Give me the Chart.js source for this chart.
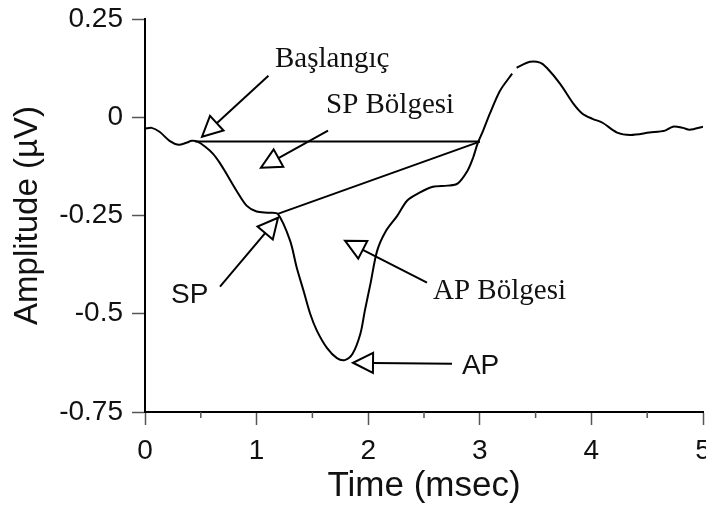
<!DOCTYPE html>
<html>
<head>
<meta charset="utf-8">
<script src="https://cdn.jsdelivr.net/npm/chart.js@4.4.1/dist/chart.umd.min.js"></script>
<style>
  html, body { margin: 0; padding: 0; background: #fff; }
  #wrap { width: 706px; height: 509px; }
</style>
</head>
<body>
<div id="wrap"><canvas id="chart" width="706" height="509"></canvas></div>
<script>
// Waveform (time in msec, amplitude in µV)
const timeMs = [0, 0.06, 0.13, 0.22, 0.30, 0.37, 0.42, 0.47, 0.54, 0.61, 0.67, 0.73, 0.82, 0.91, 1.00, 1.10, 1.19,
  1.30, 1.36, 1.42, 1.48, 1.54, 1.63, 1.72, 1.79, 1.86, 1.93, 1.97, 2.02, 2.08, 2.16, 2.26,
  2.35, 2.46, 2.58, 2.71, 2.80, 2.89, 2.94, 2.98, 3.03, 3.09, 3.18, 3.29, 3.31, 3.33, 3.45, 3.54, 3.60, 3.72, 3.84,
  3.92, 4.01, 4.10, 4.23, 4.35, 4.52, 4.66, 4.73, 4.82, 4.88, 5.00];
const amplitude = [-0.029, -0.027, -0.037, -0.060, -0.070, -0.065, -0.060, -0.062, -0.075, -0.093, -0.116, -0.144,
  -0.187, -0.225, -0.240, -0.243, -0.246,
  -0.314, -0.383, -0.441, -0.500, -0.543, -0.587, -0.613, -0.618, -0.602, -0.551, -0.492, -0.424, -0.340, -0.289, -0.251,
  -0.212, -0.192, -0.177, -0.174, -0.169, -0.136, -0.103, -0.067, -0.034, 0.009, 0.067, 0.111, null, 0.126, 0.141,
  0.139, 0.126, 0.085, 0.034, 0.009, -0.004,
  -0.014, -0.039, -0.045, -0.039, -0.034, -0.024, -0.027, -0.032, -0.024];

// Reference lines (onset baseline and SP line)
const baselineX = [0.45, 3.0];
const baselineY = [-0.062, -0.062];
const spLineX = [1.19, 3.0];
const spLineY = [-0.246, -0.062];

// Axis ticks
const yTicks = [0.25, 0, -0.25, -0.5, -0.75];
const xTicks = [0, 1, 2, 3, 4, 5];
const xMinorTicks = [0.5, 1.5, 2.5, 3.5, 4.5];

// Annotations: text, label position, arrow tail, arrow tip (data units)
const noteText = ['Başlangıç', 'SP Bölgesi', 'SP', 'AP Bölgesi', 'AP'];
const noteSerif = [true, true, false, true, false];
const noteX = [1.165, 1.622, 0.233, 2.581, 2.84];
const noteY = [0.1285, 0.0115, -0.472, -0.462, -0.653];
const tailX = [1.106, 1.640, 0.672, 2.527, 2.751];
const tailY = [0.1056, -0.0343, -0.431, -0.421, -0.627];
const tipX = [0.511, 1.039, 1.192, 1.792, 1.864];
const tipY = [-0.0496, -0.1285, -0.2557, -0.314, -0.6247];

const toPts = (xs, ys) => xs.map((x, i) => ({ x: x, y: ys[i] }));

const annotations = {
    id: 'annotations',
    afterDatasetsDraw(chart) {
        const ctx = chart.ctx;
        const xs = chart.scales.x;
        const ys = chart.scales.y;

        // minor ticks on the time axis
        ctx.save();
        ctx.strokeStyle = '#555';
        ctx.lineWidth = 1.5;
        xMinorTicks.forEach(v => {
            const px = xs.getPixelForValue(v);
            ctx.beginPath();
            ctx.moveTo(px, ys.bottom);
            ctx.lineTo(px, ys.bottom + 6);
            ctx.stroke();
        });
        ctx.restore();

        ctx.save();
        ctx.lineWidth = 2;
        ctx.strokeStyle = '#000';
        noteText.forEach((t, i) => {
            const x0 = xs.getPixelForValue(tailX[i]);
            const y0 = ys.getPixelForValue(tailY[i]);
            const x1 = xs.getPixelForValue(tipX[i]);
            const y1 = ys.getPixelForValue(tipY[i]);
            const ang = Math.atan2(y1 - y0, x1 - x0);
            const len = 20, half = 10;
            const bx = x1 - len * Math.cos(ang);
            const by = y1 - len * Math.sin(ang);

            ctx.beginPath();
            ctx.moveTo(x0, y0);
            ctx.lineTo(bx, by);
            ctx.stroke();

            ctx.beginPath();
            ctx.moveTo(x1, y1);
            ctx.lineTo(bx + half * Math.sin(ang), by - half * Math.cos(ang));
            ctx.lineTo(bx - half * Math.sin(ang), by + half * Math.cos(ang));
            ctx.closePath();
            ctx.fillStyle = '#fff';
            ctx.fill();
            ctx.stroke();

            ctx.fillStyle = '#111';
            ctx.textAlign = 'left';
            ctx.textBaseline = 'alphabetic';
            ctx.font = noteSerif[i] ? '29px "Liberation Serif"' : '28px "Liberation Sans"';
            ctx.fillText(t, xs.getPixelForValue(noteX[i]), ys.getPixelForValue(noteY[i]));
        });
        ctx.restore();
    }
};

new Chart(document.getElementById('chart'), {
    type: 'line',
    data: {
        datasets: [
            {
                data: toPts(timeMs, amplitude),
                borderColor: '#000',
                borderWidth: 2,
                pointRadius: 0,
                tension: 0.3,
                spanGaps: false
            },
            {
                data: toPts(baselineX, baselineY),
                borderColor: '#000',
                borderWidth: 2,
                pointRadius: 0
            },
            {
                data: toPts(spLineX, spLineY),
                borderColor: '#000',
                borderWidth: 2,
                pointRadius: 0
            }
        ]
    },
    options: {
        responsive: false,
        animation: false,
        layout: { padding: { top: 19, right: 0, bottom: 0, left: 0 } },
        plugins: {
            legend: { display: false },
            tooltip: { enabled: false }
        },
        scales: {
            x: {
                type: 'linear',
                min: 0,
                max: 5,
                afterBuildTicks: s => { s.ticks = xTicks.map(v => ({ value: v })); },
                afterFit: s => { s.height = 97; s.paddingLeft = 0; s.paddingRight = 3; },
                grid: { display: true, drawOnChartArea: false, tickLength: 13, tickColor: '#555', tickWidth: 1.5 },
                border: { color: '#000', width: 2 },
                ticks: {
                    color: '#111',
                    padding: 9,
                    maxRotation: 0,
                    font: { family: 'Liberation Sans', size: 28 },
                    callback: v => String(v)
                },
                title: {
                    display: true,
                    text: 'Time (msec)',
                    color: '#111',
                    font: { family: 'Liberation Sans', size: 35 },
                    padding: { top: 0, bottom: 2 }
                }
            },
            y: {
                min: -0.75,
                max: 0.25,
                afterBuildTicks: s => { s.ticks = yTicks.map(v => ({ value: v })); },
                afterFit: s => { s.width = 145; s.paddingTop = 0; s.paddingBottom = 0; },
                grid: { display: true, drawOnChartArea: false, tickLength: 13, tickColor: '#555', tickWidth: 1.5 },
                border: { color: '#000', width: 2 },
                ticks: {
                    color: '#111',
                    padding: 9,
                    font: { family: 'Liberation Sans', size: 28 },
                    callback: v => String(v)
                },
                title: {
                    display: true,
                    text: 'Amplitude (µV)',
                    color: '#111',
                    font: { family: 'Liberation Sans', size: 33 },
                    padding: { top: 8, bottom: 0 }
                }
            }
        }
    },
    plugins: [annotations]
});
</script>
</body>
</html>
